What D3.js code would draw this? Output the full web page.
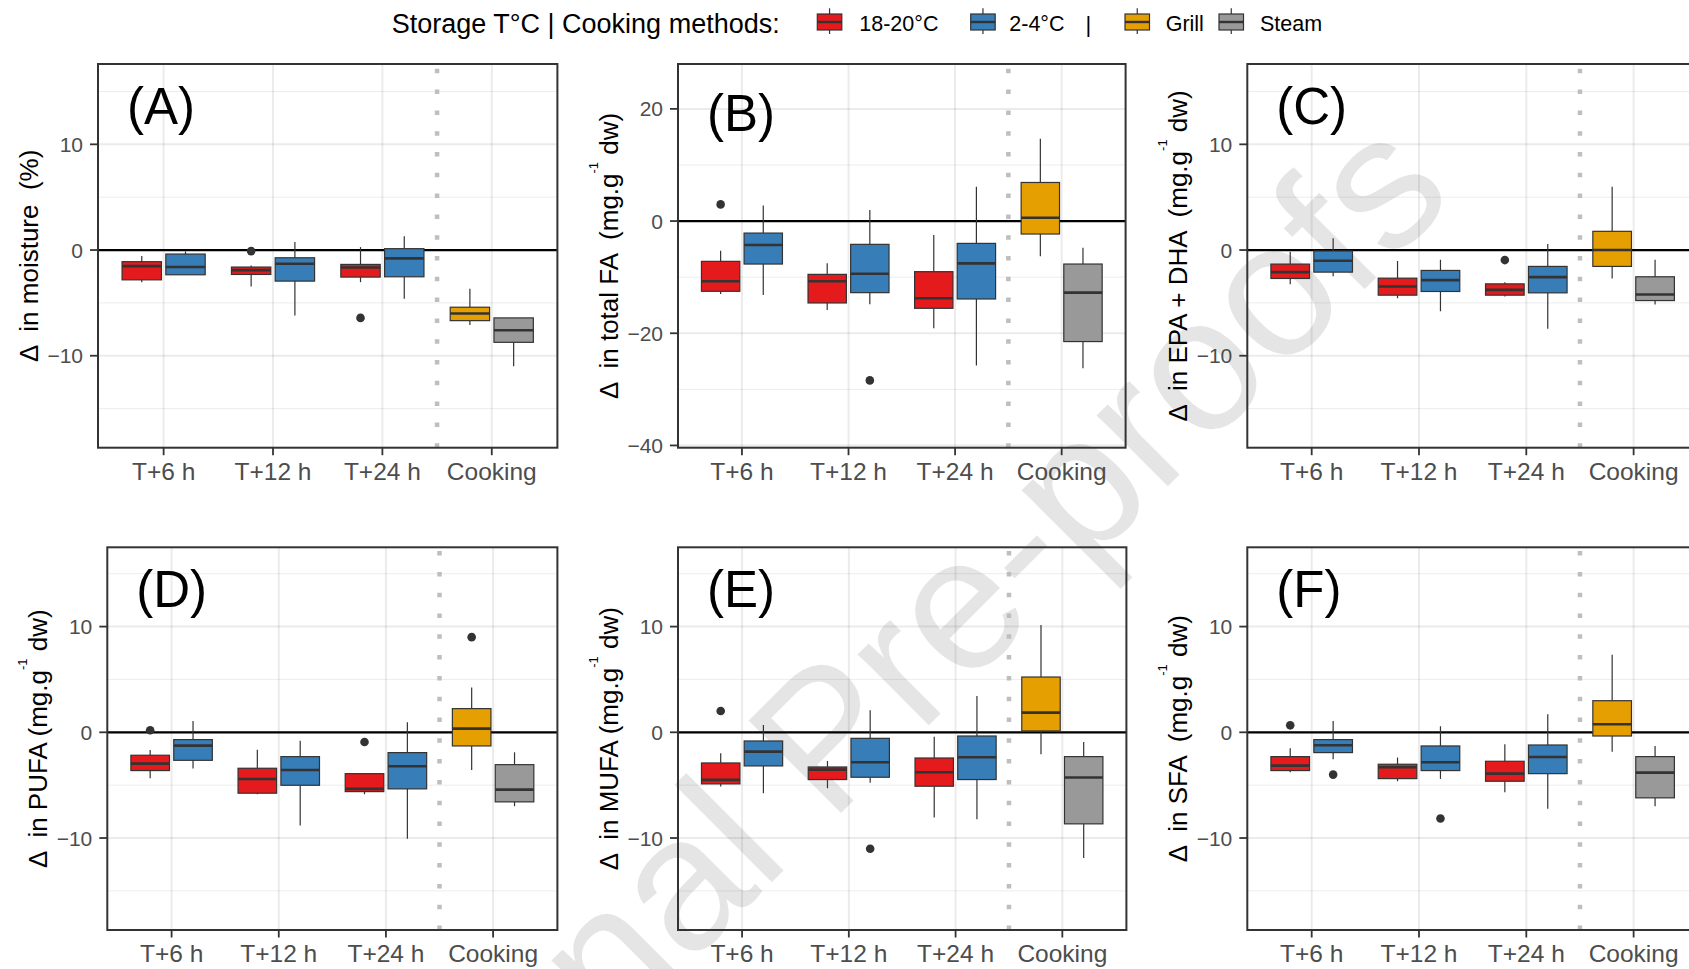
<!DOCTYPE html>
<html><head><meta charset="utf-8">
<script src="https://cdn.jsdelivr.net/npm/d3@7"></script>
<style>
html,body{margin:0;padding:0;background:#fff;}
svg{display:block;font-family:"Liberation Sans",Arial,sans-serif;}
</style></head><body>
<svg id="chart" width="1689" height="969"></svg>
<script>
// ---------------- DATA ----------------
const categories = ["T+6 h", "T+12 h", "T+24 h", "Cooking"];
const groups = ["18-20°C", "2-4°C", "Grill", "Steam"];
const groupColors = ["#E41A1C", "#377EB8", "#E69F00", "#999999"];
// box order inside each panel: [category index, group index]
const boxSlots = [[0,0],[0,1],[1,0],[1,1],[2,0],[2,1],[3,2],[3,3]];

// five-number summaries: [lower whisker, Q1, median, Q3, upper whisker]
const moistureStats = [
  [-3.04, -2.82, -1.52, -1.10, -0.57],
  [-2.34, -2.34, -1.61, -0.38, -0.13],
  [-3.45, -2.31, -1.90, -1.61, -1.46],
  [-6.20, -2.94, -1.30, -0.73,  0.76],
  [-3.04, -2.56, -1.65, -1.36,  0.28],
  [-4.62, -2.53, -0.79,  0.13,  1.30],
  [-7.09, -6.68, -6.01, -5.41, -3.67],
  [-11.0, -8.73, -7.59, -6.42, -6.42]
];
const moistureOutliers = [[], [], [-0.10], [], [-6.42], [], [], []];

const totalFAStats = [
  [-13.0, -12.52, -10.74, -7.18, -5.28],
  [-13.18, -7.66, -4.27, -2.14, 2.79],
  [-15.85, -14.6, -10.74, -9.5, -7.54],
  [-14.84, -12.76, -9.38, -4.15, 1.96],
  [-19.1, -15.55, -13.77, -9.02, -2.49],
  [-25.76, -13.89, -7.54, -3.98, 6.11],
  [-6.29, -2.31, 0.59, 6.88, 14.66],
  [-26.23, -21.48, -12.76, -7.66, -4.75]
];
const totalFAOutliers = [[2.97], [], [], [-28.4], [], [], [], []];

const epaDhaStats = [
  [-3.23, -2.69, -2.09, -1.33, -0.16],
  [-2.47, -2.09, -1.01, -0.09, 1.11],
  [-4.56, -4.27, -3.45, -2.66, -1.04],
  [-5.79, -3.92, -2.85, -1.93, -0.92],
  [-4.40, -4.27, -3.77, -3.20, -3.04],
  [-7.44, -4.05, -2.56, -1.55, 0.57],
  [-2.69, -1.55, 0.00, 1.77, 5.98],
  [-5.16, -4.78, -4.21, -2.53, -0.92]
];
const epaDhaOutliers = [[], [], [], [], [-0.95], [], [], []];

const pufaStats = [
  [-4.35, -3.62, -2.96, -2.17, -1.67],
  [-3.43, -2.65, -1.26, -0.69, 1.07],
  [-5.86, -5.76, -4.41, -3.40, -1.64],
  [-8.82, -5.01, -3.56, -2.30, -0.79],
  [-5.86, -5.61, -5.35, -3.91, -3.91],
  [-10.08, -5.35, -3.21, -1.92, 0.94],
  [-3.56, -1.29, 0.35, 2.24, 4.25],
  [-6.99, -6.58, -5.42, -3.06, -1.89]
];
const pufaOutliers = [[0.19], [], [], [], [-0.91], [], [9.0], []];

const mufaStats = [
  [-5.13, -4.88, -4.50, -2.90, -1.98],
  [-5.76, -3.18, -1.83, -0.82, 0.69],
  [-5.29, -4.47, -3.53, -3.28, -2.71],
  [-4.76, -4.25, -2.83, -0.57, 2.08],
  [-8.06, -5.10, -3.78, -2.43, -0.41],
  [-8.22, -4.47, -2.36, -0.35, 3.43],
  [-2.08, 0.13, 1.86, 5.23, 10.14],
  [-11.9, -8.66, -4.28, -2.30, -0.91]
];
const mufaOutliers = [[2.02], [], [], [-11.02], [], [], [], []];

const sfaStats = [
  [-3.78, -3.62, -3.15, -2.30, -1.51],
  [-2.55, -1.92, -1.23, -0.69, 1.07],
  [-4.63, -4.38, -3.31, -3.02, -2.39],
  [-4.41, -3.62, -2.83, -1.29, 0.57],
  [-5.67, -4.63, -3.91, -2.74, -1.13],
  [-7.24, -3.91, -2.33, -1.20, 1.70],
  [-1.83, -0.35, 0.76, 2.99, 7.34],
  [-6.99, -6.20, -3.81, -2.30, -1.29]
];
const sfaOutliers = [[0.66], [-4.0], [], [-8.16], [], [], [], []];

const yTicksSmall = [-10, 0, 10];
const yMinorSmall = [-15, -5, 5, 15];
const yTicksFA = [-40, -20, 0, 20];
const yMinorFA = [-30, -10, 10];

const legendTitle = "Storage T°C | Cooking methods:";
const watermarkText = "Journal Pre-proofs";

// ---------------- LAYOUT ----------------
const panels = [
  {label:"(A)", stats:moistureStats, out:moistureOutliers, ticks:yTicksSmall, minor:yMinorSmall, domain:[-18.7,17.6],
   title:[["Δ  in moisture  (%)",0]], x0:98, x1:557.4, y0:64, y1:447.7, labDy:60},
  {label:"(B)", stats:totalFAStats, out:totalFAOutliers, ticks:yTicksFA, minor:yMinorFA, domain:[-40.4,28.0],
   title:[["Δ  in total FA  (mg.g",0],["-1",1],[" dw)",2]], x0:678, x1:1125.6, y0:64, y1:447.7, labDy:67},
  {label:"(C)", stats:epaDhaStats, out:epaDhaOutliers, ticks:yTicksSmall, minor:yMinorSmall, domain:[-18.7,17.6],
   title:[["Δ  in EPA + DHA  (mg.g",0],["-1",1],[" dw)",2]], x0:1247.3, x1:1698, y0:64, y1:447.7, labDy:60},
  {label:"(D)", stats:pufaStats, out:pufaOutliers, ticks:yTicksSmall, minor:yMinorSmall, domain:[-18.7,17.5],
   title:[["Δ  in PUFA (mg.g",0],["-1",1],[" dw)",2]], x0:107.3, x1:557.4, y0:547.3, y1:930, labDy:60},
  {label:"(E)", stats:mufaStats, out:mufaOutliers, ticks:yTicksSmall, minor:yMinorSmall, domain:[-18.7,17.5],
   title:[["Δ  in MUFA (mg.g",0],["-1",1],[" dw)",2]], x0:678, x1:1126.4, y0:547.3, y1:930, labDy:60},
  {label:"(F)", stats:sfaStats, out:sfaOutliers, ticks:yTicksSmall, minor:yMinorSmall, domain:[-18.7,17.5],
   title:[["Δ  in SFA  (mg.g",0],["-1",1],[" dw)",2]], x0:1247.3, x1:1698, y0:547.3, y1:930, labDy:60}
];

const svg = d3.select("#chart");
svg.append("rect").attr("width",1689).attr("height",969).attr("fill","#fff");
const gridLayer = svg.append("g");
const wmLayer = svg.append("g");
const markLayer = svg.append("g");

const DARK = "#333333";

panels.forEach((p, pi) => {
  const x = d3.scalePoint().domain(categories).range([p.x0, p.x1]).padding(0.6);
  const y = d3.scaleLinear().domain(p.domain).range([p.y1, p.y0]);
  const step = x.step();
  const bw = 0.36 * step;
  const off = 0.2 * step;

  // grid
  const g = gridLayer.append("g");
  g.selectAll(".minor").data(p.minor).join("line")
    .attr("x1", p.x0).attr("x2", p.x1).attr("y1", d => y(d)).attr("y2", d => y(d))
    .attr("stroke", "#000").attr("stroke-opacity", 0.075).attr("stroke-width", 1);
  g.selectAll(".major").data(p.ticks).join("line")
    .attr("x1", p.x0).attr("x2", p.x1).attr("y1", d => y(d)).attr("y2", d => y(d))
    .attr("stroke", "#000").attr("stroke-opacity", 0.078).attr("stroke-width", 2);
  g.selectAll(".vmajor").data(categories).join("line")
    .attr("x1", d => x(d)).attr("x2", d => x(d)).attr("y1", p.y0).attr("y2", p.y1)
    .attr("stroke", "#000").attr("stroke-opacity", 0.078).attr("stroke-width", 2);

  const m = markLayer.append("g");
  // zero line
  m.append("line").attr("x1", p.x0).attr("x2", p.x1).attr("y1", y(0)).attr("y2", y(0))
    .attr("stroke", "#000").attr("stroke-width", 2.2);
  // dotted separator between T+24 h and Cooking
  const xs = (x(categories[2]) + x(categories[3])) / 2;
  m.append("line").attr("x1", xs).attr("x2", xs).attr("y1", p.y1).attr("y2", p.y0)
    .attr("stroke", "#BEBEBE").attr("stroke-width", 4.5).attr("stroke-dasharray", "4.5 16.3");

  const boxes = boxSlots.map((s, i) => ({
    cx: x(categories[s[0]]) + (i % 2 === 0 ? -off : off),
    color: groupColors[s[1]],
    st: p.stats[i],
    out: p.out[i]
  }));
  const bg = m.selectAll(".box").data(boxes).join("g");
  bg.append("line").attr("x1", d => d.cx).attr("x2", d => d.cx)
    .attr("y1", d => y(d.st[4])).attr("y2", d => y(d.st[3]))
    .attr("stroke", DARK).attr("stroke-width", 1.2);
  bg.append("line").attr("x1", d => d.cx).attr("x2", d => d.cx)
    .attr("y1", d => y(d.st[1])).attr("y2", d => y(d.st[0]))
    .attr("stroke", DARK).attr("stroke-width", 1.2);
  bg.append("rect").attr("x", d => d.cx - bw/2).attr("width", bw)
    .attr("y", d => y(d.st[3])).attr("height", d => Math.max(0.5, y(d.st[1]) - y(d.st[3])))
    .attr("fill", d => d.color).attr("stroke", DARK).attr("stroke-width", 1.2);
  bg.append("line").attr("x1", d => d.cx - bw/2).attr("x2", d => d.cx + bw/2)
    .attr("y1", d => y(d.st[2])).attr("y2", d => y(d.st[2]))
    .attr("stroke", DARK).attr("stroke-width", 2.6);
  bg.selectAll("circle").data(d => d.out.map(v => ({cx: d.cx, v}))).join("circle")
    .attr("cx", d => d.cx).attr("cy", d => y(d.v)).attr("r", 4.3).attr("fill", DARK);

  // panel border
  m.append("rect").attr("x", p.x0).attr("y", p.y0).attr("width", p.x1 - p.x0).attr("height", p.y1 - p.y0)
    .attr("fill", "none").attr("stroke", DARK).attr("stroke-width", 2);

  // y axis
  m.selectAll(".yt").data(p.ticks).join("line")
    .attr("x1", p.x0 - 8).attr("x2", p.x0).attr("y1", d => y(d)).attr("y2", d => y(d))
    .attr("stroke", DARK).attr("stroke-width", 1.8);
  m.selectAll(".yl").data(p.ticks).join("text")
    .attr("x", p.x0 - 15).attr("y", d => y(d)).attr("dy", "0.36em")
    .attr("text-anchor", "end").attr("font-size", 21).attr("fill", "#4D4D4D")
    .text(d => d3.format("d")(d));
  // x axis
  m.selectAll(".xt").data(categories).join("line")
    .attr("x1", d => x(d)).attr("x2", d => x(d)).attr("y1", p.y1).attr("y2", p.y1 + 7.5)
    .attr("stroke", DARK).attr("stroke-width", 1.8);
  m.selectAll(".xl").data(categories).join("text")
    .attr("x", d => x(d)).attr("y", p.y1 + 32.3)
    .attr("text-anchor", "middle").attr("font-size", 24.5).attr("fill", "#4D4D4D")
    .text(d => d);

  // y title
  const cy = (p.y0 + p.y1) / 2;
  const tt = m.append("text")
    .attr("transform", `translate(${p.x0 - 60},${cy}) rotate(-90)`)
    .attr("text-anchor", "middle").attr("font-size", 26).attr("fill", "#000")
    .style("white-space", "pre");
  p.title.forEach(([t, kind]) => {
    const ts = tt.append("tspan").text(t);
    if (kind === 1) ts.attr("font-size", 13).attr("dy", -20);
    if (kind === 2) ts.attr("dy", 20);
  });

  // panel label
  m.append("text").attr("x", p.x0 + 29).attr("y", p.y0 + p.labDy)
    .attr("font-size", 51).attr("fill", "#000").text(p.label);
});

// watermark (behind marks, above grid)
wmLayer.append("text")
  .attr("transform", "translate(352,1302) rotate(-45)")
  .attr("font-size", 190).attr("fill", "#000").attr("fill-opacity", 0.1)
  .text(watermarkText);

// legend
const lg = svg.append("g");
lg.append("text").attr("x", 391.7).attr("y", 33.3).attr("font-size", 27).attr("fill", "#000").text(legendTitle);
const keyX = [817.3, 970.7, 1125, 1219];
const labX = [859.3, 1009.3, 1165.7, 1260];
const kw = 24.5;
groups.forEach((gname, i) => {
  const kx = keyX[i], kc = kx + kw/2;
  lg.append("line").attr("x1", kc).attr("x2", kc).attr("y1", 8.3).attr("y2", 34).attr("stroke", DARK).attr("stroke-width", 1.2);
  lg.append("rect").attr("x", kx).attr("y", 14).attr("width", kw).attr("height", 16)
    .attr("fill", groupColors[i]).attr("stroke", DARK).attr("stroke-width", 1.2);
  lg.append("line").attr("x1", kx).attr("x2", kx + kw).attr("y1", 22).attr("y2", 22).attr("stroke", DARK).attr("stroke-width", 2.4);
  lg.append("text").attr("x", labX[i]).attr("y", 30.7).attr("font-size", 21.5).attr("fill", "#000").text(gname);
});
lg.append("text").attr("x", 1088.3).attr("y", 32).attr("text-anchor", "middle").attr("font-size", 22).attr("fill", "#000").text("|");
</script>
</body></html>
